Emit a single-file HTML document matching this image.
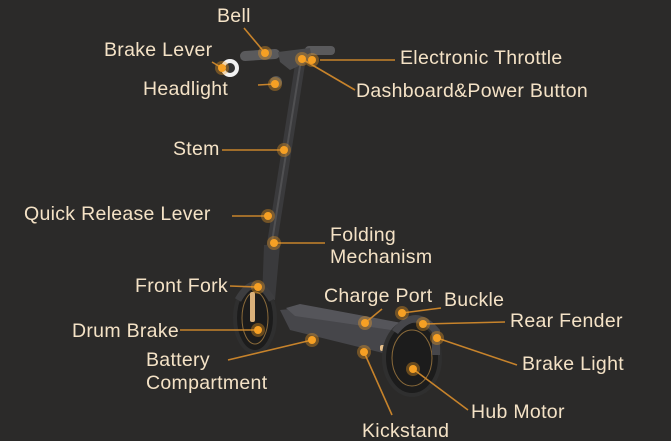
<!DOCTYPE html>
<html><head><meta charset="utf-8"><style>
html,body{margin:0;padding:0;background:#2b2a29;}
svg{display:block}
text{font-family:"Liberation Sans",sans-serif;font-size:19.5px;letter-spacing:0.3px;fill:#f4e2c6;}
</style></head><body>
<svg width="671" height="441" viewBox="0 0 671 441" xmlns="http://www.w3.org/2000/svg">
<rect width="671" height="441" fill="#2b2a29"/>
<g>
<polygon points="296,58 306,58 276,250 266,250" fill="#3a3a3c"/>
<line x1="301" y1="60" x2="271" y2="248" stroke="#505052" stroke-width="2"/>
<rect x="240" y="50" width="40" height="10" rx="5" fill="#5a5a5c" transform="rotate(-4 260 55)"/>
<rect x="305" y="46" width="30" height="9" rx="4" fill="#5a5a5c"/>
<polygon points="278,52 310,48 312,60 290,70 280,62" fill="#4a4a4c"/>
<circle cx="230" cy="68" r="9" fill="#f2f2f2"/><circle cx="230" cy="68" r="5" fill="#333"/>
<circle cx="276" cy="82" r="6" fill="#555"/>
<polygon points="264,245 280,245 275,300 262,300" fill="#3a3a3c"/>
<ellipse cx="255" cy="318" rx="20" ry="34" fill="#1c1c1c" stroke="#2f2f2f" stroke-width="4"/>
<ellipse cx="255" cy="318" rx="13" ry="26" fill="none" stroke="#8a6a3a" stroke-width="1"/>
<rect x="250" y="292" width="5" height="30" rx="2" fill="#d9b07a"/>
<path d="M238 300 Q255 270 272 300" fill="none" stroke="#3d3d3f" stroke-width="7"/>
<polygon points="280,310 300,308 420,330 420,350 395,356 290,330" fill="#46464a"/>
<polygon points="286,308 300,304 418,326 405,332 295,316" fill="#55555a"/>
<rect x="380" y="345" width="18" height="6" rx="2" fill="#e8c08a"/>
<ellipse cx="412" cy="358" rx="28" ry="37" fill="#1c1c1c" stroke="#2f2f2f" stroke-width="4"/>
<ellipse cx="412" cy="358" rx="20" ry="28" fill="none" stroke="#8a6a3a" stroke-width="1"/>
<path d="M392 330 Q415 300 440 330 L440 355 L432 355 L432 332 Q415 312 398 334 Z" fill="#46464a"/>
</g>
<g stroke="#c7832b" stroke-width="1.6" fill="none">
<line x1="244" y1="28" x2="265" y2="53"/>
<line x1="212" y1="62" x2="222" y2="68"/>
<line x1="258" y1="85" x2="275" y2="84"/>
<line x1="320" y1="60" x2="395" y2="60"/>
<line x1="302" y1="59" x2="355" y2="90"/>
<line x1="222" y1="150" x2="284" y2="150"/>
<line x1="232" y1="216" x2="268" y2="216"/>
<line x1="274" y1="243" x2="325" y2="243"/>
<line x1="230" y1="286" x2="258" y2="287"/>
<line x1="180" y1="330" x2="258" y2="330"/>
<line x1="228" y1="360" x2="312" y2="340"/>
<line x1="365" y1="323" x2="382" y2="309"/>
<line x1="364" y1="352" x2="392" y2="415"/>
<line x1="402" y1="313" x2="441" y2="308"/>
<line x1="423" y1="324" x2="505" y2="322"/>
<line x1="437" y1="338" x2="517" y2="365"/>
<line x1="413" y1="369" x2="468" y2="410"/>
</g>
<g fill="#f6a024">
<g opacity="0.35">
<circle cx="265" cy="53" r="7"/><circle cx="222" cy="68" r="7"/><circle cx="275" cy="84" r="7"/><circle cx="312" cy="60" r="7"/><circle cx="302" cy="59" r="7"/><circle cx="284" cy="150" r="7"/><circle cx="268" cy="216" r="7"/><circle cx="274" cy="243" r="7"/><circle cx="258" cy="287" r="7"/><circle cx="258" cy="330" r="7"/><circle cx="312" cy="340" r="7"/><circle cx="365" cy="323" r="7"/><circle cx="364" cy="352" r="7"/><circle cx="402" cy="313" r="7"/><circle cx="423" cy="324" r="7"/><circle cx="437" cy="338" r="7"/><circle cx="413" cy="369" r="7"/>
</g>
<circle cx="265" cy="53" r="4"/><circle cx="222" cy="68" r="4"/><circle cx="275" cy="84" r="4"/><circle cx="312" cy="60" r="4"/><circle cx="302" cy="59" r="4"/><circle cx="284" cy="150" r="4"/><circle cx="268" cy="216" r="4"/><circle cx="274" cy="243" r="4"/><circle cx="258" cy="287" r="4"/><circle cx="258" cy="330" r="4"/><circle cx="312" cy="340" r="4"/><circle cx="365" cy="323" r="4"/><circle cx="364" cy="352" r="4"/><circle cx="402" cy="313" r="4"/><circle cx="423" cy="324" r="4"/><circle cx="437" cy="338" r="4"/><circle cx="413" cy="369" r="4"/>
</g>
<text x="217" y="22">Bell</text>
<text x="104" y="56">Brake Lever</text>
<text x="143" y="95">Headlight</text>
<text x="400" y="64">Electronic Throttle</text>
<text x="356" y="97">Dashboard&amp;Power Button</text>
<text x="173" y="155">Stem</text>
<text x="24" y="220">Quick Release Lever</text>
<text x="330" y="241">Folding</text>
<text x="330" y="263">Mechanism</text>
<text x="135" y="292">Front Fork</text>
<text x="324" y="302">Charge Port</text>
<text x="444" y="306">Buckle</text>
<text x="510" y="327">Rear Fender</text>
<text x="72" y="337">Drum Brake</text>
<text x="146" y="366">Battery</text>
<text x="146" y="389">Compartment</text>
<text x="522" y="370">Brake Light</text>
<text x="471" y="418">Hub Motor</text>
<text x="362" y="437">Kickstand</text>
</svg>
</body></html>
